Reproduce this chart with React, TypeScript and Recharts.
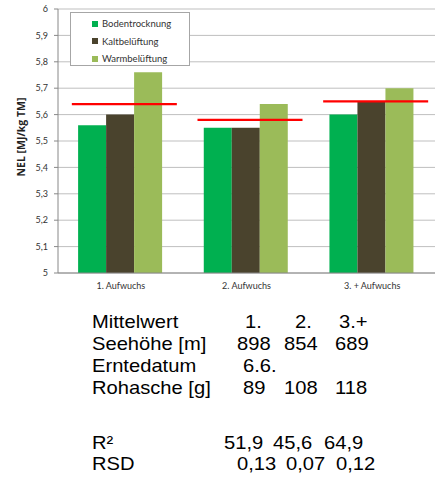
import React from 'react';
import { ComposedChart, Bar, Line, XAxis, YAxis, CartesianGrid } from 'recharts';

const categories = ['1. Aufwuchs', '2. Aufwuchs', '3. + Aufwuchs'];
const bodentrocknung = [5.56, 5.55, 5.6];
const kaltbelueftung = [5.6, 5.55, 5.65];
const warmbelueftung = [5.76, 5.64, 5.7];
const mittelwert = [5.64, 5.58, 5.65];
const yTicks = [5, 5.1, 5.2, 5.3, 5.4, 5.5, 5.6, 5.7, 5.8, 5.9, 6];

const seriesNames = ['Bodentrocknung', 'Kaltbelüftung', 'Warmbelüftung'];
const seriesKeys = ['boden', 'kalt', 'warm'];
const seriesColors = ['#00B050', '#4A432D', '#9BBB59'];

const tableLabels = ['Mittelwert', 'Seehöhe [m]', 'Erntedatum', 'Rohasche [g]', 'R²', 'RSD'];
const tableValues = [
  ['1.', '2.', '3.+'],
  ['898', '854', '689'],
  ['6.6.'],
  ['89', '108', '118'],
  ['51,9', '45,6', '64,9'],
  ['0,13', '0,07', '0,12'],
];

const data = categories.map((c, i) => ({
  name: c,
  boden: bodentrocknung[i],
  kalt: kaltbelueftung[i],
  warm: warmbelueftung[i],
  mean: mittelwert[i],
}));

// layout styles
const rowBaselines = [328, 350, 372, 394, 449, 470];
const cellX = [
  [245, 295, 339],
  [237, 284, 335],
  [243],
  [243, 284, 335],
  [224, 273, 324],
  [237, 286, 336],
];

const fmt = (v: number) => (Number.isInteger(v) ? String(v) : v.toFixed(1).replace('.', ','));

const MeanDot = (props: any) => {
  const { cx, cy } = props;
  if (cx == null || cy == null) return null;
  return <line x1={cx - 49} x2={cx + 56} y1={cy} y2={cy} stroke="#FF0000" strokeWidth={2.2} />;
};

const LegendBox = () => (
  <div
    style={{
      position: 'absolute',
      left: 70,
      top: 12,
      width: 120,
      height: 54,
      border: '1px solid #A6A6A6',
      background: '#fff',
      boxSizing: 'border-box',
      paddingTop: 2,
      fontFamily: 'Lato, sans-serif',
      fontSize: 9.5,
      color: '#333',
    }}
  >
    {seriesNames.map((n, i) => (
      <div key={n} style={{ display: 'flex', alignItems: 'center', height: 17.5, paddingLeft: 21 }}>
        <span style={{ width: 6, height: 6, background: seriesColors[i], marginRight: 4, display: 'inline-block' }} />
        <span>{n}</span>
      </div>
    ))}
  </div>
);

export default function App() {
  return (
    <div style={{ position: 'absolute', left: 0, top: 0, width: 435, height: 479, background: '#fff' }}>
      <ComposedChart
        width={435}
        height={300}
        data={data}
        margin={{ top: 9, right: 0, bottom: 7, left: 0 }}
        barCategoryGap="16%"
        barGap={0}
      >
        <CartesianGrid vertical={false} stroke="#BFBFBF" strokeWidth={1} />
        <XAxis
          dataKey="name"
          height={20}
          axisLine={{ stroke: '#888' }}
          tickLine={false}
          tickSize={0}
          tickMargin={10}
          tick={{ fontSize: 9, fill: '#333', fontFamily: 'Lato, sans-serif' }}
          interval={0}
        />
        <YAxis
          width={58}
          domain={[5, 6]}
          ticks={yTicks}
          tickFormatter={fmt}
          axisLine={{ stroke: '#888' }}
          tickLine={{ stroke: '#888' }}
          tickSize={4}
          tickMargin={6}
          interval={0}
          tick={{ fontSize: 9, fill: '#333', fontFamily: 'Lato, sans-serif' }}
          label={{
            content: (p: any) => {
              const vb = p.viewBox || {};
              const cx = 21;
              const cy = (vb.y ?? 9) + (vb.height ?? 264) / 2 - 4;
              return (
                <text
                  x={cx}
                  y={cy}
                  transform={`rotate(-90, ${cx}, ${cy})`}
                  textAnchor="middle"
                  dominantBaseline="central"
                  fontSize={10.5}
                  fontWeight={700}
                  fontFamily="'Open Sans', sans-serif"
                  fill="#222"
                >
                  NEL [MJ/kg TM]
                </text>
              );
            },
          }}
        />
        {seriesKeys.map((k, i) => (
          <Bar key={k} dataKey={k} name={seriesNames[i]} fill={seriesColors[i]} isAnimationActive={false} />
        ))}
        <Line
          dataKey="mean"
          stroke="none"
          dot={<MeanDot />}
          activeDot={false}
          legendType="none"
          isAnimationActive={false}
        />
      </ComposedChart>
      <LegendBox />
      <svg
        width={435}
        height={479}
        style={{ position: 'absolute', left: 0, top: 0, pointerEvents: 'none' }}
      >
        {tableLabels.map((lab, r) => (
          <g key={lab} fontFamily="'Liberation Sans', Arial, sans-serif" fontSize={18} fill="#000">
            <text transform={`translate(92, ${rowBaselines[r]}) scale(1.12, 1)`}>{lab}</text>
            {tableValues[r].map((v, c) => (
              <text key={c} transform={`translate(${cellX[r][c]}, ${rowBaselines[r]}) scale(1.12, 1)`}>
                {v}
              </text>
            ))}
          </g>
        ))}
      </svg>
    </div>
  );
}
